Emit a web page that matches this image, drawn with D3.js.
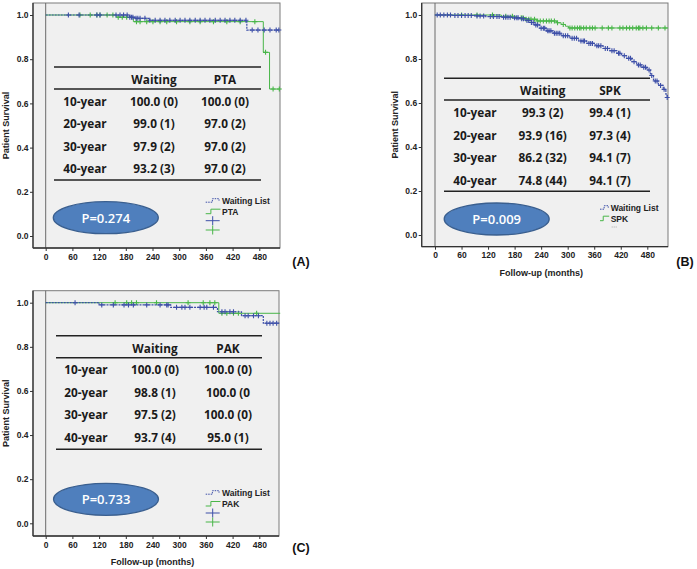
<!DOCTYPE html>
<html><head><meta charset="utf-8">
<script src="https://cdn.jsdelivr.net/npm/d3@7"></script>
<style>body{margin:0;background:#fff}svg{display:block}</style>
</head><body>
<svg id="c" width="697" height="569"></svg>
<script>
// ---------- data ----------
const xTicks = [0, 60, 120, 180, 240, 300, 360, 420, 480];
const yTicks = [0, 0.2, 0.4, 0.6, 0.8, 1.0];
const rowLabels = ["10-year", "20-year", "30-year", "40-year"];
const groupWaiting = "Waiting";
const legendWaiting = "Waiting List";

// Panel A : Waiting vs PTA
const groupA = "PTA";
const tableWaitA = ["100.0 (0)", "99.0 (1)", "97.9 (2)", "93.2 (3)"];
const tableGroupA = ["100.0 (0)", "97.0 (2)", "97.0 (2)", "97.0 (2)"];
const pValueA = "P=0.274";
const waitA = [[0,1],[189,0.99],[200,0.985],[234,0.976],[452,0.932]];
const waitAEnd = 525;
const ptaA = [[0,1],[160,0.99],[197,0.97],[489,0.831],[503,0.665]];
const ptaAEnd = 527;
const waitACens = [51,75,115,122,158,167,175,183,189,193,196,203,207,212,223,234,246,257,268,279,291,302,313,324,336,347,358,369,381,392,403,414,425,437,450,464,477,491,504,518,524];
const ptaACens = [77,100,115,122,138,151,163,172,182,204,212,227,241,257,272,294,324,347,377,407,437,470,494,511,525];

// Panel B : Waiting vs SPK
const groupB = "SPK";
const tableWaitB = ["99.3 (2)", "93.9 (16)", "86.2 (32)", "74.8 (44)"];
const tableGroupB = ["99.4 (1)", "97.3 (4)", "94.1 (7)", "94.1 (7)"];
const pValueB = "P=0.009";
const waitB = [[0,1],[40,0.998],[90,0.996],[115,0.993],[150,0.99],[175,0.987],[192,0.983],[205,0.975],[215,0.966],[225,0.955],[237,0.94],[252,0.928],[267,0.917],[285,0.906],[305,0.894],[325,0.882],[343,0.871],[362,0.86],[380,0.848],[395,0.838],[411,0.826],[422,0.815],[433,0.803],[445,0.788],[456,0.773],[468,0.762],[479,0.75],[487,0.725],[494,0.70],[505,0.68],[516,0.662],[522,0.64],[525,0.625]];
const waitBEnd = 527;
const spkB = [[0,1],[150,0.994],[185,0.988],[205,0.981],[230,0.973],[275,0.965],[285,0.957],[295,0.949],[302,0.941]];
const spkBEnd = 527;
const waitBCens = [5,12,20,28,35,45,52,60,68,75,82,95,102,110,125,132,140,145,155,160,165,170,180,185,188,196,200,208,212,218,222,228,232,240,245,248,255,258,262,270,274,278,282,290,295,300,310,315,320,330,335,338,348,352,356,366,370,375,385,390,400,405,415,418,428,438,442,450,460,464,472,476,484,490,498,502,510,518,525];
const spkBCens = [60,95,130,160,175,195,199,206,212,217,225,232,238,245,252,258,263,270,277,290,305,310,316,322,327,330,336,342,350,356,362,378,392,400,418,425,433,440,447,455,460,463,470,478,490,505,520];

// Panel C : Waiting vs PAK
const groupC = "PAK";
const tableWaitC = ["100.0 (0)", "98.8 (1)", "97.5 (2)", "93.7 (4)"];
const tableGroupC = ["100.0 (0)", "100.0 (0", "100.0 (0)", "95.0 (1)"];
const pValueC = "P=0.733";
const waitC = [[0,1],[120,0.99],[281,0.979],[386,0.959],[440,0.941],[489,0.907]];
const waitCEnd = 525;
const pakC = [[0,1],[389,0.952]];
const pakCEnd = 527;
const waitCCens = [66,126,152,176,186,197,227,257,272,275,294,306,313,324,347,356,362,377,396,403,414,422,448,455,467,478,497,504,511,519];
const pakCCens = [156,182,193,204,249,320,354,369,380,396,407,422,433,474];

// ---------- drawing ----------
const BLUE = "#3d4fa8", GREEN = "#49b649";
const svg = d3.select("#c");
const FONT = "'Liberation Sans', Arial, sans-serif";
const TFONT = "'Open Sans', 'Noto Sans', sans-serif";

const panels = [
  { frame:[33,3,280,248], xr:[45.7,259.3], yr:[236,15], group:groupA,
    tw:tableWaitA, tg:tableGroupA, p:pValueA, wait:waitA, wEnd:waitAEnd, grp:ptaA, gEnd:ptaAEnd,
    wc:waitACens, gc:ptaACens, label:"(A)", labelPos:[301,262], xTitle:false,
    tbl:{x1:54,x2:261,cols:[85,154,225],top:67,head:79,mid:89,rows:[100.5,123,145.7,168.3],bot:180},
    ell:[105.8,217.7], leg:{x:205.7,tx:222,rows:[200.7,211.7,220.7,230]}, legType:"plus" },
  { frame:[421.7,3,668,246.7], xr:[435,647.3], yr:[235,15], group:groupB,
    tw:tableWaitB, tg:tableGroupB, p:pValueB, wait:waitB, wEnd:waitBEnd, grp:spkB, gEnd:spkBEnd,
    wc:waitBCens, gc:spkBCens, label:"(B)", labelPos:[685,262], xTitle:true, xTitleY:273,
    tbl:{x1:444,x2:650,cols:[475,542.7,610],top:78.3,head:90,mid:100,rows:[111.7,135,157.3,180],bot:191.3},
    ell:[496.7,219], leg:{x:600,tx:610.7,rows:[207.7,218.7,227]}, legType:"dots" },
  { frame:[33,290.7,279,536], xr:[45.7,259.3], yr:[523.3,302.7], group:groupC,
    tw:tableWaitC, tg:tableGroupC, p:pValueC, wait:waitC, wEnd:waitCEnd, grp:pakC, gEnd:pakCEnd,
    wc:waitCCens, gc:pakCCens, label:"(C)", labelPos:[301,548], xTitle:true, xTitleY:561.7,
    tbl:{x1:56,x2:262,cols:[86,155,228],top:335.7,head:347.7,mid:357.7,rows:[369.3,392.3,414.3,437.3],bot:449.3},
    ell:[106,499.3], leg:{x:205.7,tx:222,rows:[492.7,504,513,522]}, legType:"plus" }
];

function survAt(curve, t){ let s = 1; for (const [tt, ss] of curve) { if (tt <= t) s = ss; } return s; }

panels.forEach(P => {
  const [fx1, fy1, fx2, fy2] = P.frame;
  const x = d3.scaleLinear().domain([0,480]).range(P.xr);
  const y = d3.scaleLinear().domain([0,1]).range(P.yr);
  const g = svg.append("g");

  g.append("rect").attr("x",fx1).attr("y",fy1).attr("width",fx2-fx1).attr("height",fy2-fy1)
    .attr("fill","#f0f0f0").attr("stroke","#7a7a7a").attr("stroke-width",1);
  g.append("line").attr("x1",x(0)).attr("x2",x(0)).attr("y1",fy1).attr("y2",fy2)
    .attr("stroke","#6a6a6a").attr("stroke-width",1);

  const ax = g.append("g").attr("transform",`translate(0,${fy2})`)
    .call(d3.axisBottom(x).tickValues(xTicks).tickFormat(d3.format("d")).tickSize(3).tickPadding(2.5));
  const ay = g.append("g").attr("transform",`translate(${fx1},0)`)
    .call(d3.axisLeft(y).tickValues(yTicks).tickFormat(d3.format(".1f")).tickSize(3).tickPadding(1.5));
  [ax, ay].forEach(a => {
    a.select(".domain").remove();
    a.selectAll(".tick line").attr("stroke","#333");
    a.selectAll(".tick text").attr("font-family",FONT).attr("font-weight","bold")
      .attr("font-size","8.5px").attr("fill","#222");
  });
  g.append("line").attr("x1",fx1).attr("x2",fx2).attr("y1",fy2).attr("y2",fy2).attr("stroke","#333").attr("stroke-width",1.3);
  g.append("line").attr("x1",fx1).attr("x2",fx1).attr("y1",fy1).attr("y2",fy2).attr("stroke","#333").attr("stroke-width",1.3);

  g.append("text").attr("transform",`translate(${fx1-27},${(fy1+fy2)/2}) rotate(-90)`)
    .attr("text-anchor","middle").attr("dominant-baseline","central")
    .attr("font-family",FONT).attr("font-weight","bold").attr("font-size","9px").attr("fill","#222")
    .text("Patient Survival");
  if (P.xTitle) {
    g.append("text").attr("x",(x(0)+x(480))/2).attr("y",P.xTitleY)
      .attr("text-anchor","middle").attr("dominant-baseline","central")
      .attr("font-family",FONT).attr("font-weight","bold").attr("font-size","9px").attr("fill","#222")
      .text("Follow-up (months)");
  }
  g.append("text").attr("x",P.labelPos[0]).attr("y",P.labelPos[1])
    .attr("text-anchor","middle").attr("dominant-baseline","central")
    .attr("font-family",FONT).attr("font-weight","bold").attr("font-size","12.5px").attr("fill","#111")
    .text(P.label);

  const line = d3.line().x(d => x(d[0])).y(d => y(d[1])).curve(d3.curveStepAfter);
  const drawCurve = (curve, end, color, dash, w) => {
    const pts = curve.concat([[end, curve[curve.length-1][1]]]);
    g.append("path").attr("d", line(pts)).attr("fill","none").attr("stroke",color)
      .attr("stroke-width",w||1).attr("stroke-dasharray",dash||null);
  };
  const drawCens = (times, curve, color) => {
    g.append("g").selectAll("path").data(times).join("path")
      .attr("d", t => { const cx = x(t), cy = y(survAt(curve,t));
        return `M${cx-2.5},${cy}H${cx+2.5}M${cx},${cy-2.5}V${cy+2.5}`; })
      .attr("stroke",color).attr("stroke-width",1.1).attr("fill","none");
  };
  drawCurve(P.grp, P.gEnd, GREEN);
  drawCens(P.gc, P.grp, GREEN);
  drawCurve(P.wait, P.wEnd, BLUE, "2,1", 1.2);
  drawCens(P.wc, P.wait, BLUE);

  const T = P.tbl;
  [T.top, T.mid, T.bot].forEach(yy => g.append("line").attr("x1",T.x1).attr("x2",T.x2)
    .attr("y1",yy).attr("y2",yy).attr("stroke","#222").attr("stroke-width",1.4));
  const txt = (xx, yy, s) => g.append("text").attr("x",xx).attr("y",yy)
    .attr("text-anchor","middle").attr("dominant-baseline","central")
    .attr("font-family",TFONT).attr("font-weight","700").attr("font-size","11.8px").attr("fill","#1a1a1a").text(s);
  txt(T.cols[1], T.head, groupWaiting);
  txt(T.cols[2], T.head, P.group);
  rowLabels.forEach((r,i) => {
    txt(T.cols[0], T.rows[i], r);
    txt(T.cols[1], T.rows[i], P.tw[i]);
    txt(T.cols[2], T.rows[i], P.tg[i]);
  });

  g.append("ellipse").attr("cx",P.ell[0]).attr("cy",P.ell[1]).attr("rx",52.5).attr("ry",16)
    .attr("fill","#4f7fbd").attr("stroke","#3a5f8f").attr("stroke-width",1.3);
  g.append("text").attr("x",P.ell[0]).attr("y",P.ell[1]).attr("text-anchor","middle")
    .attr("dominant-baseline","central").attr("font-family",TFONT).attr("font-weight","600").attr("font-size","13px")
    .attr("fill","#fff").text(P.p);

  const L = P.leg, lx = L.x, lw = L.tx - L.x - 1.5;
  const ltxt = (yy, s) => g.append("text").attr("x",L.tx).attr("y",yy).attr("dominant-baseline","central")
    .attr("font-family",FONT).attr("font-weight","bold").attr("font-size","8.5px").attr("fill","#222").text(s);
  let r0 = L.rows[0], r1 = L.rows[1];
  g.append("path").attr("d",`M${lx},${r0+1.5}H${lx+lw*0.45}V${r0-2}H${lx+lw*0.9}V${r0}`)
    .attr("fill","none").attr("stroke",BLUE).attr("stroke-dasharray","1.5,1");
  ltxt(r0, legendWaiting);
  g.append("path").attr("d",`M${lx},${r1+2}H${lx+lw*0.35}V${r1-2.5}H${lx+lw}`)
    .attr("fill","none").attr("stroke",GREEN);
  ltxt(r1, P.group);
  if (P.legType === "plus") {
    [[L.rows[2],BLUE],[L.rows[3],GREEN]].forEach(([yy,c]) => {
      const cx = lx + 7;
      g.append("path").attr("d",`M${lx},${yy}H${lx+14}M${cx},${yy-4.5}V${yy+4.5}`)
        .attr("stroke",c).attr("fill","none").attr("stroke-width",1);
    });
  } else {
    g.append("path").attr("d",`M${L.tx+1},${L.rows[2]}H${L.tx+6}`)
      .attr("stroke","#aaa").attr("stroke-dasharray","1,1").attr("fill","none");
  }
});
</script>
</body></html>
